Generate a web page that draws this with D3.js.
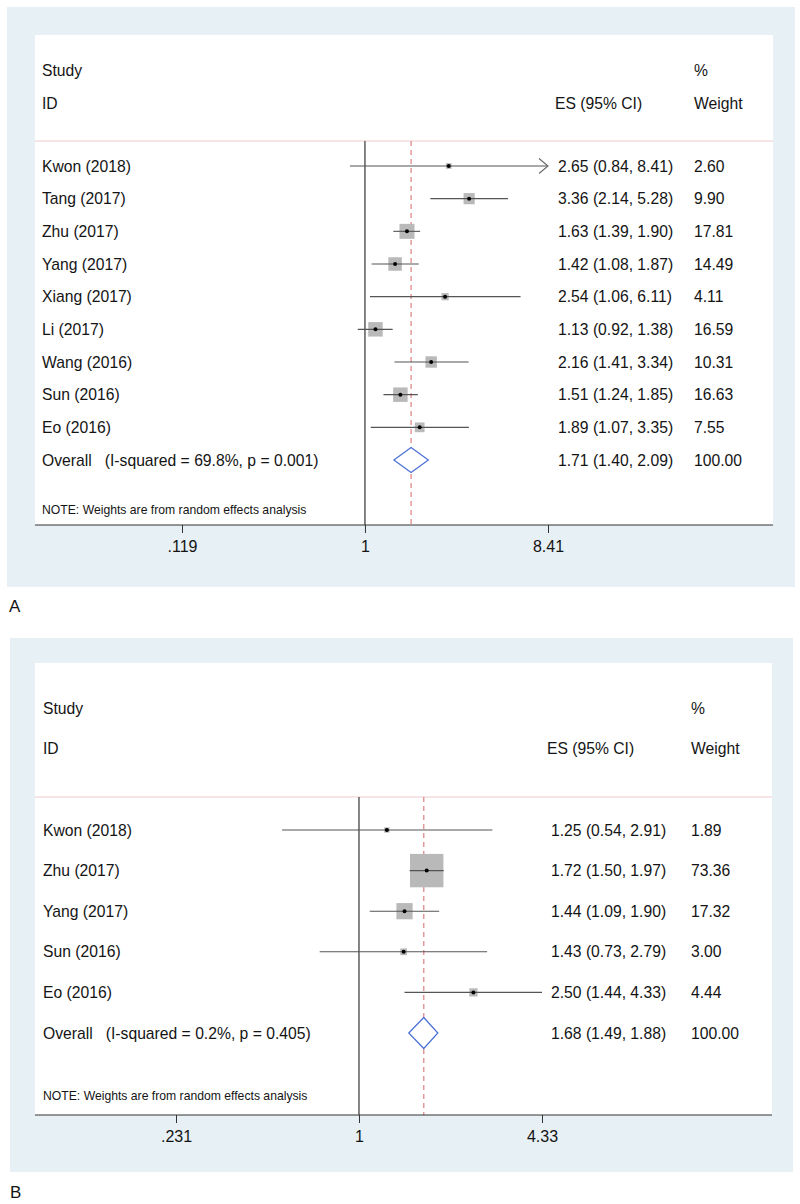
<!DOCTYPE html>
<html>
<head>
<meta charset="utf-8">
<script src="https://cdn.jsdelivr.net/npm/d3@7/dist/d3.min.js"></script>
<style>
  html, body { margin: 0; padding: 0; background: #ffffff; }
  svg { display: block; font-family: "Liberation Sans", Arial, sans-serif; }
</style>
</head>
<body>
<svg id="chart" width="800" height="1204"></svg>
<script>
// ---------- Panel A data ----------
const studiesA = ["Kwon (2018)", "Tang (2017)", "Zhu (2017)", "Yang (2017)", "Xiang (2017)", "Li (2017)", "Wang (2016)", "Sun (2016)", "Eo (2016)"];
const esA      = [2.65, 3.36, 1.63, 1.42, 2.54, 1.13, 2.16, 1.51, 1.89];
const lowA     = [0.84, 2.14, 1.39, 1.08, 1.06, 0.92, 1.41, 1.24, 1.07];
const highA    = [8.41, 5.28, 1.90, 1.87, 6.11, 1.38, 3.34, 1.85, 3.35];
const weightA  = [2.60, 9.90, 17.81, 14.49, 4.11, 16.59, 10.31, 16.63, 7.55];
const arrowsA  = ["Kwon (2018)"];
const overallA = [1.71, 1.40, 2.09];
const overallLabelA = "Overall   (I-squared = 69.8%, p = 0.001)";
const ticksA = [0.119, 1, 8.41];
const tickLabelsA = [".119", "1", "8.41"];

// ---------- Panel B data ----------
const studiesB = ["Kwon (2018)", "Zhu (2017)", "Yang (2017)", "Sun (2016)", "Eo (2016)"];
const esB      = [1.25, 1.72, 1.44, 1.43, 2.50];
const lowB     = [0.54, 1.50, 1.09, 0.73, 1.44];
const highB    = [2.91, 1.97, 1.90, 2.79, 4.33];
const weightB  = [1.89, 73.36, 17.32, 3.00, 4.44];
const arrowsB  = [];
const overallB = [1.68, 1.49, 1.88];
const overallLabelB = "Overall   (I-squared = 0.2%, p = 0.405)";
const ticksB = [0.231, 1, 4.33];
const tickLabelsB = [".231", "1", "4.33"];

const noteText = "NOTE: Weights are from random effects analysis";

const svg = d3.select("#chart");
const f2 = d3.format(".2f");

function drawPanel(cfg) {
  const g = svg.append("g");
  g.append("rect").attr("x", cfg.outer[0]).attr("y", cfg.outer[1])
    .attr("width", cfg.outer[2] - cfg.outer[0]).attr("height", cfg.outer[3] - cfg.outer[1])
    .attr("fill", "#e7f0f4");
  g.append("rect").attr("x", cfg.inner[0]).attr("y", cfg.inner[1])
    .attr("width", cfg.inner[2] - cfg.inner[0]).attr("height", cfg.inner[3] - cfg.inner[1])
    .attr("fill", "#ffffff");

  const x = d3.scaleLog().domain(d3.extent(cfg.ticks)).range(cfg.xRange);
  const n = cfg.studies.length;
  const y = d3.scaleLinear().domain([0, n]).range(cfg.yRange);

  const fs = 15.7;
  const txt = (sel) => sel.attr("font-size", fs).attr("fill", "#141414").attr("dominant-baseline", "central");

  txt(g.append("text").attr("x", cfg.labelX).attr("y", cfg.headY[0]).text("Study"));
  txt(g.append("text").attr("x", cfg.labelX).attr("y", cfg.headY[1]).text("ID"));
  txt(g.append("text").attr("x", cfg.esHeadX).attr("y", cfg.headY[1]).text("ES (95% CI)"));
  txt(g.append("text").attr("x", cfg.wX).attr("y", cfg.headY[0]).text("%"));
  txt(g.append("text").attr("x", cfg.wX).attr("y", cfg.headY[1]).text("Weight"));

  g.append("line").attr("x1", cfg.inner[0]).attr("x2", cfg.inner[2])
    .attr("y1", cfg.sepY).attr("y2", cfg.sepY)
    .attr("stroke", "#efc9c9").attr("stroke-width", 1);

  g.append("line").attr("x1", x(1)).attr("x2", x(1))
    .attr("y1", cfg.sepY).attr("y2", cfg.inner[3])
    .attr("stroke", "#333").attr("stroke-width", 1.2);

  g.append("line").attr("x1", x(cfg.overall[0])).attr("x2", x(cfg.overall[0]))
    .attr("y1", cfg.sepY).attr("y2", cfg.inner[3])
    .attr("stroke", "#e08a8c").attr("stroke-width", 1.3).attr("stroke-dasharray", "5,4");

  const rows = cfg.studies.map((s, i) => ({
    name: s, es: cfg.es[i], lo: cfg.low[i], hi: cfg.high[i], w: cfg.weight[i], i
  }));
  const xMax = d3.max(cfg.ticks);
  const xMin = d3.min(cfg.ticks);

  g.selectAll(".box").data(rows).join("rect")
    .attr("x", d => x(d.es) - cfg.k * Math.sqrt(d.w) / 2)
    .attr("y", d => y(d.i) - cfg.k * Math.sqrt(d.w) / 2)
    .attr("width", d => cfg.k * Math.sqrt(d.w))
    .attr("height", d => cfg.k * Math.sqrt(d.w))
    .attr("fill", "#b9b9b9");

  g.selectAll(".ci").data(rows).join("line")
    .attr("x1", d => x(Math.max(d.lo, xMin))).attr("x2", d => x(Math.min(d.hi, xMax)))
    .attr("y1", d => y(d.i)).attr("y2", d => y(d.i))
    .attr("stroke", "#555").attr("stroke-width", 1.1);

  g.selectAll(".arrow").data(rows.filter(d => cfg.arrows.includes(d.name))).join("path")
    .attr("d", d => {
      const tx = x(Math.min(d.hi, xMax)), ty = y(d.i);
      return `M${tx - 9},${ty - 7.5}L${tx},${ty}L${tx - 9},${ty + 7.5}`;
    })
    .attr("fill", "none").attr("stroke", "#666").attr("stroke-width", 1.1);

  g.selectAll(".pt").data(rows).join("circle")
    .attr("cx", d => x(d.es)).attr("cy", d => y(d.i)).attr("r", 2)
    .attr("fill", "#000");

  rows.forEach(d => {
    txt(g.append("text").attr("x", cfg.labelX).attr("y", y(d.i)).text(d.name));
    txt(g.append("text").attr("x", cfg.esX).attr("y", y(d.i))
      .text(`${f2(d.es)} (${f2(d.lo)}, ${f2(d.hi)})`));
    txt(g.append("text").attr("x", cfg.wX).attr("y", y(d.i)).text(f2(d.w)));
  });

  const oy = y(n);
  const hh = cfg.diamondH;
  const [oes, olo, ohi] = cfg.overall;
  g.append("path")
    .attr("d", `M${x(olo)},${oy}L${x(oes)},${oy - hh}L${x(ohi)},${oy}L${x(oes)},${oy + hh}Z`)
    .attr("fill", "#ffffff").attr("stroke", "#4a6fd6").attr("stroke-width", 1.2);
  txt(g.append("text").attr("x", cfg.labelX).attr("y", oy).style("white-space", "pre").text(cfg.overallLabel));
  txt(g.append("text").attr("x", cfg.esX).attr("y", oy)
    .text(`${f2(oes)} (${f2(olo)}, ${f2(ohi)})`));
  txt(g.append("text").attr("x", cfg.wX).attr("y", oy).text("100.00"));

  g.append("text").attr("x", cfg.labelX).attr("y", cfg.noteY)
    .attr("font-size", 12.2).attr("fill", "#141414").attr("dominant-baseline", "central")
    .text(noteText);

  const axisG = g.append("g").attr("transform", `translate(0,${cfg.inner[3]})`);
  axisG.append("line").attr("x1", cfg.inner[0]).attr("x2", cfg.inner[2])
    .attr("y1", 0).attr("y2", 0).attr("stroke", "#333").attr("stroke-width", 1.2);
  const axis = d3.axisBottom(x).tickValues(cfg.ticks)
    .tickFormat((d, i) => cfg.tickLabels[i]).tickSizeOuter(0).tickSizeInner(8).tickPadding(8);
  const ag = axisG.append("g").call(axis);
  ag.select(".domain").remove();
  ag.selectAll(".tick line").attr("stroke", "#333");
  ag.selectAll(".tick text").attr("font-size", 16).attr("fill", "#141414")
    .attr("font-family", "Liberation Sans, Arial, sans-serif");

  svg.append("text").attr("x", cfg.letterPos[0]).attr("y", cfg.letterPos[1])
    .attr("font-size", 17).attr("fill", "#141414").attr("dominant-baseline", "central")
    .text(cfg.letter);
}

drawPanel({
  outer: [7, 7, 795, 587], inner: [35, 35, 773, 525],
  studies: studiesA, es: esA, low: lowA, high: highA, weight: weightA, arrows: arrowsA,
  overall: overallA, overallLabel: overallLabelA,
  ticks: ticksA, tickLabels: tickLabelsA,
  xRange: [182, 548], yRange: [166, 460],
  headY: [70, 103], sepY: 141, noteY: 510,
  labelX: 42, esX: 558, esHeadX: 555, wX: 694,
  k: 3.55, diamondH: 12.5,
  letter: "A", letterPos: [9, 606]
});

drawPanel({
  outer: [10, 638, 793, 1172], inner: [35, 663, 772, 1115],
  studies: studiesB, es: esB, low: lowB, high: highB, weight: weightB, arrows: arrowsB,
  overall: overallB, overallLabel: overallLabelB,
  ticks: ticksB, tickLabels: tickLabelsB,
  xRange: [176, 542], yRange: [830, 1033],
  headY: [708, 748], sepY: 797, noteY: 1096,
  labelX: 43, esX: 551, esHeadX: 547, wX: 691,
  k: 3.9, diamondH: 15.5,
  letter: "B", letterPos: [10, 1192]
});
</script>
</body>
</html>
